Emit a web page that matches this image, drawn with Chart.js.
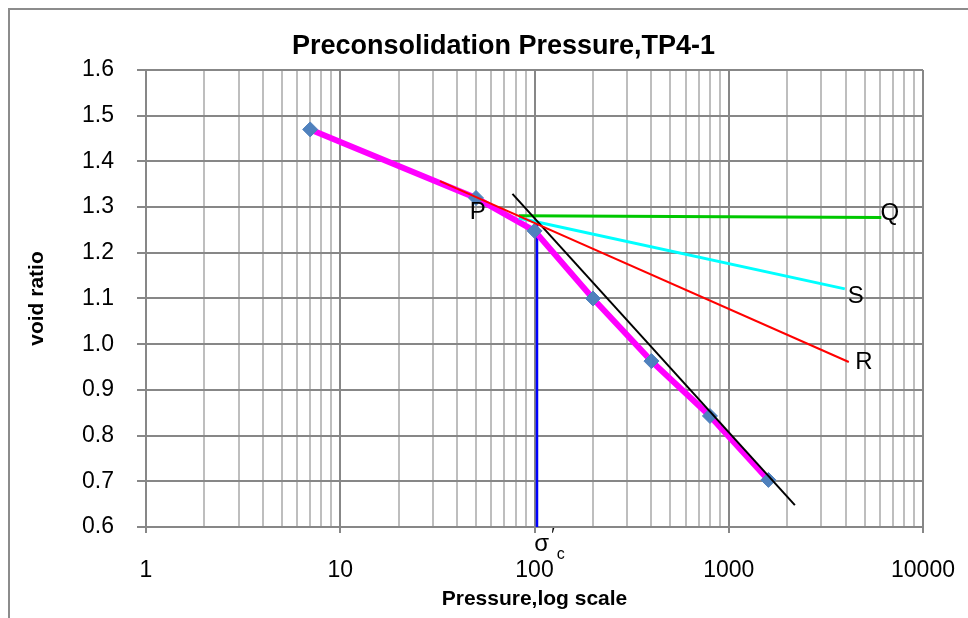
<!DOCTYPE html>
<html><head><meta charset="utf-8">
<script src="https://cdn.jsdelivr.net/npm/chart.js@4.4.1/dist/chart.umd.min.js"></script>
<style>
html,body{margin:0;padding:0;background:#fff;overflow:hidden;width:968px;height:618px;}
#frame{position:absolute;left:8px;top:8px;width:1100px;height:700px;border-left:2px solid #8c8c8c;border-top:2px solid #8c8c8c;}
#wrap{position:absolute;left:0;top:0;width:968px;height:618px;}
</style></head><body>
<div id="frame"></div>
<div id="wrap"><canvas id="c" width="968" height="618"></canvas></div>
<script>
// ---- data ----
const pressure  = [7, 50, 100, 200, 400, 800, 1600];
const voidRatio = [1.47, 1.32, 1.248, 1.10, 0.963, 0.843, 0.703];

const linePPressure = [32.6, 4150];   // tangent at P (red, to R)
const linePVoid     = [1.357, 0.961];
const lineQPressure = [83, 6100];     // horizontal (green, to Q)
const lineQVoid     = [1.281, 1.277];
const lineSPressure = [83, 3960];     // bisector (cyan, to S)
const lineSVoid     = [1.276, 1.121];
const tangentPressure = [77, 2190];   // virgin compression line (black)
const tangentVoid     = [1.329, 0.648];
const sigmaPressure = [103, 103];     // preconsolidation pressure (blue)
const sigmaVoid     = [1.268, 0.6];

const yTicks = [0.6, 0.7, 0.8, 0.9, 1.0, 1.1, 1.2, 1.3, 1.4, 1.5, 1.6];
const xTickLabels = [1, 10, 100, 1000, 10000];
const decadeSteps = [1, 2, 3, 4, 5, 6, 7, 8, 9];

const pointLabels = [
  {text: 'P', p: 51,    e: 1.288, size: 24},
  {text: 'Q', p: 6750,  e: 1.287, size: 24},
  {text: 'S', p: 4510,  e: 1.104, size: 24},
  {text: 'R', p: 4960,  e: 0.961, size: 24},
  {text: 'σ', p: 109,   e: 0.561, size: 24},
  {text: '′', p: 124.4, e: 0.581, size: 18},
  {text: 'c', p: 136.7, e: 0.539, size: 16}
];

// ---- helpers ----
const zip = (xs, ys) => xs.map((v, i) => ({x: v, y: ys[i]}));
const gridValues = [];
for (let d = 1; d < 10000; d *= 10) decadeSteps.forEach(m => gridValues.push(d * m));
gridValues.push(10000);
const isMajor = v => xTickLabels.includes(v);

const FONT = "'Liberation Sans', Arial, sans-serif";
const majorGrid = '#878787', minorGrid = '#BEBEBE';

const labelPlugin = {
  id: 'pointLabels',
  afterDatasetsDraw(chart) {
    const {ctx, scales: {x, y}} = chart;
    ctx.save();
    ctx.fillStyle = '#000';
    ctx.textAlign = 'center';
    ctx.textBaseline = 'middle';
    pointLabels.forEach(l => {
      ctx.font = l.size + 'px ' + FONT;
      ctx.fillText(l.text, x.getPixelForValue(l.p), y.getPixelForValue(l.e));
    });
    ctx.restore();
  }
};
const titleShift = {
  id: 'titleShift',
  afterLayout(chart) {
    if (chart.titleBlock) { chart.titleBlock.left = 9; chart.titleBlock.right = 998; }
  }
};

new Chart(document.getElementById('c'), {
  type: 'scatter',
  data: {
    datasets: [
      {label: 'PR', data: zip(linePPressure, linePVoid), showLine: true, borderColor: '#FF0000', borderWidth: 2, pointRadius: 0},
      {label: 'tangent', data: zip(tangentPressure, tangentVoid), showLine: true, borderColor: '#000000', borderWidth: 2, pointRadius: 0},
      {label: 'PQ', data: zip(lineQPressure, lineQVoid), showLine: true, borderColor: '#00C800', borderWidth: 3, pointRadius: 0},
      {label: 'PS', data: zip(lineSPressure, lineSVoid), showLine: true, borderColor: '#00FFFF', borderWidth: 3, pointRadius: 0},
      {label: 'void ratio', data: zip(pressure, voidRatio), showLine: true, borderColor: '#FF00FF', borderWidth: 6,
       pointStyle: 'rectRot', pointRadius: 7.5, pointBackgroundColor: '#4F81BD', pointBorderColor: '#4F81BD', pointBorderWidth: 1},
      {label: 'sigma', data: zip(sigmaPressure, sigmaVoid), showLine: true, borderColor: '#0000FF', borderWidth: 2.5, pointRadius: 0}
    ]
  },
  options: {
    responsive: false, animation: false, devicePixelRatio: 1,
    layout: {padding: {top: 10, right: 45, bottom: 0, left: 0}},
    plugins: {
      legend: {display: false}, tooltip: {enabled: false},
      title: {display: true, text: 'Preconsolidation Pressure,TP4-1', color: '#000',
              font: {family: FONT, size: 27, weight: 'bold'}, padding: {top: 20.8, bottom: 6.8}}
    },
    scales: {
      x: {
        type: 'logarithmic', min: 1, max: 10000,
        afterBuildTicks: s => { s.ticks = gridValues.map(v => ({value: v})); },
        afterFit: s => { s.height = 91; s.paddingLeft = 0; s.paddingRight = 0; },
        ticks: {autoSkip: false, maxRotation: 0, padding: 24, color: '#000', font: {family: FONT, size: 23},
                callback: v => isMajor(v) ? String(v) : ''},
        grid: {color: c => (c.tick && isMajor(c.tick.value)) ? majorGrid : minorGrid, lineWidth: 2, tickLength: 6,
               tickColor: c => (c.tick && isMajor(c.tick.value)) ? majorGrid : 'rgba(0,0,0,0)'},
        border: {color: majorGrid, width: 2},
        title: {display: true, text: 'Pressure,log scale', color: '#000', font: {family: FONT, size: 21, weight: 'bold'},
                padding: {top: 0, bottom: 6}}
      },
      y: {
        min: 0.6, max: 1.6,
        afterBuildTicks: s => { s.ticks = yTicks.map(v => ({value: v})); },
        afterFit: s => { s.width = 146; s.paddingTop = 0; s.paddingBottom = 0; },
        ticks: {padding: 23, color: '#000', font: {family: FONT, size: 23}, callback: v => Number(v).toFixed(1)},
        grid: {color: majorGrid, lineWidth: 2, tickLength: 9},
        border: {color: majorGrid, width: 2},
        title: {display: true, text: 'void ratio', color: '#000', font: {family: FONT, size: 21, weight: 'bold'},
                padding: {top: 25, bottom: 0}}
      }
    }
  },
  plugins: [labelPlugin, titleShift]
});
</script>
</body></html>
